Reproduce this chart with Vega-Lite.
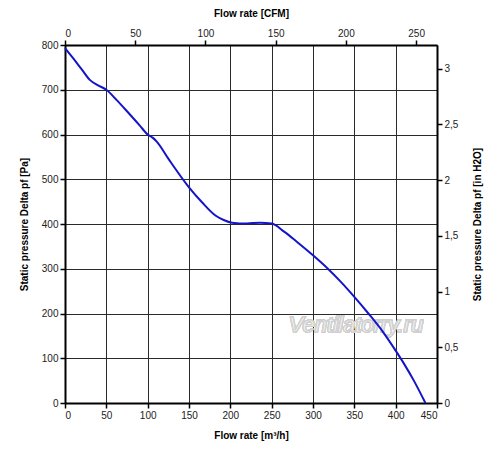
{
  "$schema": "https://vega.github.io/schema/vega-lite/v6.json",
  "autosize": "none",
  "width": 372,
  "height": 358,
  "padding": {"left": 65, "top": 45, "right": 63, "bottom": 51},
  "background": "white",
  "config": {
    "font": "Liberation Sans",
    "view": {"stroke": null},
    "axis": {
      "labelFont": "Liberation Sans",
      "labelFontSize": 10,
      "labelColor": "#222222",
      "titleFont": "Liberation Sans",
      "titleFontSize": 10,
      "titleFontWeight": "bold",
      "titleColor": "#000000",
      "domainColor": "#000000",
      "domainWidth": 2,
      "tickColor": "#000000",
      "tickWidth": 1.5,
      "tickSize": 5,
      "labelPadding": 2,
      "gridColor": "#2a2a2a",
      "gridWidth": 1,
      "gridOpacity": 1
    }
  },
  "data": {
    "values": [
      {"q": 0, "p": 793},
      {"q": 10, "p": 770},
      {"q": 20, "p": 746},
      {"q": 30, "p": 722},
      {"q": 40, "p": 710},
      {"q": 50, "p": 700},
      {"q": 62, "p": 678},
      {"q": 75, "p": 652},
      {"q": 90, "p": 621},
      {"q": 100, "p": 600},
      {"q": 106, "p": 593},
      {"q": 111, "p": 584},
      {"q": 125, "p": 546},
      {"q": 150, "p": 482},
      {"q": 166, "p": 448},
      {"q": 182, "p": 419},
      {"q": 192, "p": 409},
      {"q": 202, "p": 403},
      {"q": 220, "p": 401},
      {"q": 236, "p": 403},
      {"q": 250, "p": 401},
      {"q": 265, "p": 383},
      {"q": 280, "p": 361},
      {"q": 300, "p": 330},
      {"q": 318, "p": 300},
      {"q": 334, "p": 270},
      {"q": 350, "p": 237},
      {"q": 367, "p": 200},
      {"q": 385, "p": 158},
      {"q": 400, "p": 117},
      {"q": 410, "p": 88},
      {"q": 422, "p": 50},
      {"q": 436, "p": 0}
    ]
  },
  "layer": [
    {
      "mark": {"type": "point", "opacity": 0},
      "encoding": {
        "x": {
          "datum": 0,
          "type": "quantitative",
          "scale": {"domain": [0, 264.86], "nice": false, "zero": false},
          "axis": {
            "orient": "top",
            "title": "Flow rate [CFM]",
            "values": [0, 50, 100, 150, 200, 250],
            "grid": false,
            "titlePadding": 10
          }
        }
      }
    },
    {
      "mark": {"type": "point", "opacity": 0},
      "encoding": {
        "y": {
          "datum": 0,
          "type": "quantitative",
          "scale": {"domain": [0, 3.2117], "nice": false, "zero": false},
          "axis": {
            "orient": "right",
            "title": "Static pressure Delta pf [in H2O]",
            "titleAngle": -90,
            "titleBaseline": "bottom",
            "values": [0, 0.5, 1, 1.5, 2, 2.5, 3],
            "labelExpr": "replace(format(datum.value, ''), '.', ',')",
            "grid": false,
            "titlePadding": 25
          }
        }
      }
    },
    {
      "mark": {
        "type": "text",
        "text": "Ventilatorry.ru",
        "font": "Liberation Sans",
        "fontStyle": "italic",
        "fontSize": 22,
        "fill": "#ffffff",
        "stroke": "#cfcfcf",
        "strokeWidth": 1,
        "align": "center",
        "baseline": "middle"
      },
      "encoding": {
        "x": {
          "datum": 352,
          "type": "quantitative",
          "scale": {"domain": [0, 450], "nice": false},
          "axis": null
        },
        "y": {
          "datum": 175,
          "type": "quantitative",
          "scale": {"domain": [0, 800], "nice": false},
          "axis": null
        }
      }
    },
    {
      "mark": {"type": "line", "color": "#1414c8", "strokeWidth": 2, "interpolate": "monotone"},
      "encoding": {
        "x": {
          "field": "q",
          "type": "quantitative",
          "scale": {"domain": [0, 450], "nice": false},
          "axis": {
            "orient": "bottom",
            "title": "Flow rate [m³/h]",
            "values": [0, 50, 100, 150, 200, 250, 300, 350, 400, 450],
            "grid": true,
            "titlePadding": 10
          }
        },
        "y": {
          "field": "p",
          "type": "quantitative",
          "scale": {"domain": [0, 800], "nice": false},
          "axis": {
            "orient": "left",
            "title": "Static pressure Delta pf [Pa]",
            "values": [0, 100, 200, 300, 400, 500, 600, 700, 800],
            "grid": true,
            "titlePadding": 12
          }
        }
      }
    }
  ],
  "resolve": {"scale": {"x": "independent", "y": "independent"}}
}
